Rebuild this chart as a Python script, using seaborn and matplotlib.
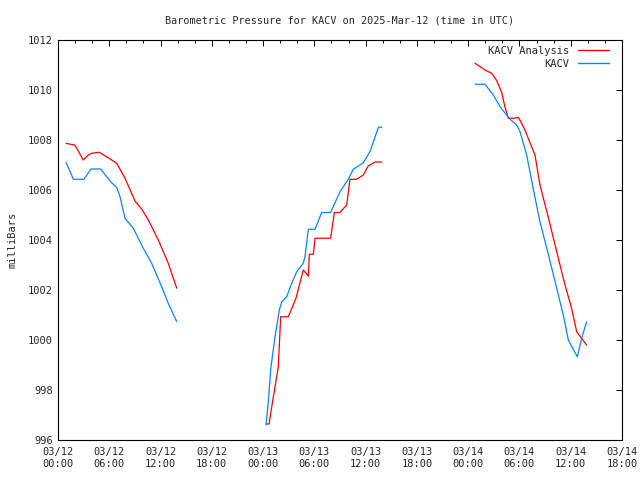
import pandas as pd
import seaborn as sns
import matplotlib.pyplot as plt
import matplotlib.dates as mdates

# hours after 2025-03-12 00:00 UTC, pressure in mb
analysis_hours_1 = [0.94, 1.99, 2.96, 3.55, 3.94, 4.83, 5.5, 6.87, 7.84, 9.0, 9.87, 10.57, 11.74, 12.9, 13.9]
analysis_mb_1 = [1007.87, 1007.79, 1007.2, 1007.4, 1007.47, 1007.51, 1007.37, 1007.07, 1006.47, 1005.57,
                 1005.2, 1004.8, 1004.0, 1003.07, 1002.07]
analysis_hours_2 = [24.4, 24.7, 25.08, 25.78, 26.06, 26.95, 27.85, 28.7, 29.3, 29.41, 29.88, 30.08, 31.9,
                    32.34, 33.0, 33.78, 34.17, 34.95, 35.73, 36.3, 37.1, 37.88]
analysis_mb_2 = [996.64, 996.64, 997.47, 998.93, 1000.93, 1000.93, 1001.67, 1002.8, 1002.56, 1003.43, 1003.43,
                 1004.07, 1004.07, 1005.1, 1005.1, 1005.4, 1006.43, 1006.43, 1006.6, 1006.96, 1007.12, 1007.12]
analysis_hours_3 = [48.8, 49.97, 50.75, 51.3, 51.9, 52.3, 52.7, 53.3, 53.9, 54.6, 55.43, 55.82, 56.4, 57.4,
                    58.36, 59.33, 60.1, 60.7, 61.28, 61.86]
analysis_mb_3 = [1011.07, 1010.8, 1010.67, 1010.4, 1009.93, 1009.33, 1008.87, 1008.87, 1008.9, 1008.43,
                 1007.73, 1007.4, 1006.2, 1004.87, 1003.53, 1002.2, 1001.27, 1000.33, 1000.07, 999.8]

obs_hours_1 = [0.94, 1.8, 3.04, 3.86, 5.0, 5.7, 6.28, 6.87, 7.26, 7.84, 8.81, 9.98, 10.96, 12.13, 12.9, 13.9]
obs_mb_1 = [1007.11, 1006.43, 1006.43, 1006.84, 1006.84, 1006.53, 1006.29, 1006.1, 1005.73, 1004.87,
            1004.47, 1003.67, 1003.07, 1002.13, 1001.47, 1000.73]
obs_hours_2 = [24.34, 24.6, 24.9, 25.4, 25.9, 26.18, 26.76, 27.35, 27.93, 28.7, 28.9, 29.3, 30.08, 30.86,
               31.9, 33.0, 33.97, 34.56, 35.73, 36.5, 37.5, 37.88]
obs_mb_2 = [996.6, 997.47, 998.87, 1000.13, 1001.2, 1001.53, 1001.73, 1002.27, 1002.73, 1003.07, 1003.33,
            1004.43, 1004.43, 1005.1, 1005.1, 1005.93, 1006.43, 1006.83, 1007.09, 1007.53, 1008.51, 1008.51]
obs_hours_3 = [48.8, 49.97, 50.94, 51.73, 52.5, 52.9, 53.68, 54.07, 54.85, 55.6, 56.4, 57.4, 58.36, 59.13,
               59.72, 60.77, 61.28, 61.86]
obs_mb_3 = [1010.23, 1010.23, 1009.8, 1009.33, 1009.0, 1008.83, 1008.6, 1008.33, 1007.4, 1006.07, 1004.73,
            1003.4, 1002.07, 1001.0, 1000.0, 999.33, 1000.07, 1000.73]

start = pd.Timestamp("2025-03-12 00:00")

rows = []
pieces = [
    ("KACV Analysis", 1, analysis_hours_1, analysis_mb_1),
    ("KACV Analysis", 2, analysis_hours_2, analysis_mb_2),
    ("KACV Analysis", 3, analysis_hours_3, analysis_mb_3),
    ("KACV", 4, obs_hours_1, obs_mb_1),
    ("KACV", 5, obs_hours_2, obs_mb_2),
    ("KACV", 6, obs_hours_3, obs_mb_3),
]
for name, seg, hrs, vals in pieces:
    for h, v in zip(hrs, vals):
        rows.append({"time": start + pd.Timedelta(hours=h), "mb": v, "series": name, "seg": seg})
df = pd.DataFrame(rows)

sns.set_style("white")
plt.rcParams["font.family"] = ["DejaVu Sans Mono"]

fig = plt.figure(figsize=(6.4, 4.8), dpi=100)
ax = fig.add_axes([58 / 640, 40 / 480, 564 / 640, 400 / 480])

sns.lineplot(data=df, x="time", y="mb", hue="series", units="seg", estimator=None,
             palette={"KACV Analysis": "#ff0000", "KACV": "#0a84ff"},
             hue_order=["KACV Analysis", "KACV"], lw=0.9, ax=ax)

ax.set_xlim(start, start + pd.Timedelta(hours=66))
ax.set_ylim(996, 1012)
ax.set_yticks(range(996, 1013, 2))
ax.xaxis.set_major_locator(mdates.HourLocator(byhour=[0, 6, 12, 18]))
ax.xaxis.set_minor_locator(mdates.HourLocator(byhour=range(0, 24, 2)))
ax.xaxis.set_major_formatter(mdates.DateFormatter("%m/%d\n%H:%M"))

for s in ax.spines.values():
    s.set_linewidth(0.8)
    s.set_color("black")
ax.tick_params(which="both", direction="in", top=True, right=True, labelsize=7.5, color="black", width=0.7)
ax.tick_params(which="major", length=4)
ax.tick_params(which="minor", length=2.5)
ax.tick_params(axis="x", pad=5)

ax.set_title("Barometric Pressure for KACV on 2025-Mar-12 (time in UTC)", fontsize=7.3, pad=12)
ax.set_xlabel("")
ax.set_ylabel("milliBars", fontsize=7.5, labelpad=8)

leg = ax.legend(loc="upper right", bbox_to_anchor=(0.99, 1.003), frameon=False, markerfirst=False,
                fontsize=7.5, handlelength=3.0, handletextpad=0.8, labelspacing=0.25, borderpad=0.2)
for line in leg.get_lines():
    line.set_linewidth(1.0)

plt.savefig("out.png", dpi=100)
plt.close()
